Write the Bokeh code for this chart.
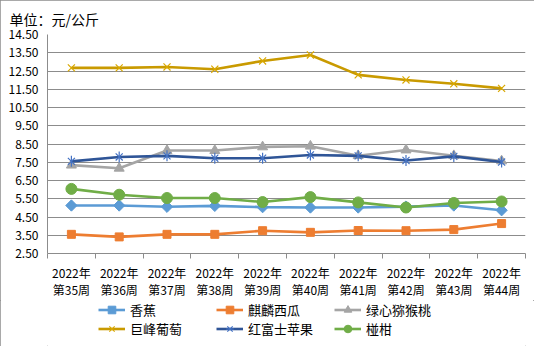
from bokeh.plotting import figure
from bokeh.layouts import column
from bokeh.models import FixedTicker, Title, Legend, LegendItem, Range1d, PrintfTickFormatter
from bokeh.embed import file_html
from bokeh.resources import INLINE

# ---- data ----
year = "2022年"
weeks = ["第35周", "第36周", "第37周", "第38周", "第39周",
         "第40周", "第41周", "第42周", "第43周", "第44周"]
banana = [5.13, 5.13, 5.06, 5.11, 5.04, 5.02, 5.02, 5.07, 5.13, 4.87]
watermelon = [3.55, 3.41, 3.55, 3.55, 3.75, 3.66, 3.76, 3.75, 3.81, 4.14]
kiwi = [7.34, 7.17, 8.14, 8.14, 8.34, 8.38, 7.86, 8.17, 7.86, 7.57]
grape = [12.67, 12.67, 12.72, 12.60, 13.05, 13.38, 12.29, 12.01, 11.80, 11.55]
apple = [7.55, 7.79, 7.85, 7.72, 7.72, 7.90, 7.85, 7.60, 7.82, 7.51]
ponkan = [6.04, 5.72, 5.54, 5.54, 5.32, 5.59, 5.30, 5.02, 5.27, 5.35]
y_ticks = [2.5, 3.5, 4.5, 5.5, 6.5, 7.5, 8.5, 9.5, 10.5, 11.5, 12.5, 13.5, 14.5]
title_text = "单位：元/公斤"
names = ["香蕉", "麒麟西瓜", "绿心猕猴桃", "巨峰葡萄", "红富士苹果", "椪柑"]
series = [banana, watermelon, kiwi, grape, apple, ponkan]

FONT = "Noto Sans CJK SC"
GRID = "#8c8c8c"
W = 534

n = len(weeks)
xs = [i + 0.5 for i in range(n)]

p = figure(width=W, height=300, output_backend="svg", toolbar_location=None,
           x_range=Range1d(0, n), y_range=Range1d(y_ticks[0], y_ticks[-1]),
           min_border_left=47, min_border_right=9, min_border_top=34, min_border_bottom=45,
           background_fill_color="white", border_fill_color="white")
p.outline_line_color = None

# title
p.add_layout(Title(text=title_text, align="left", offset=-38, standoff=11,
                   text_font=FONT, text_font_size="14px", text_font_style="normal",
                   text_color="black"), "above")

# axes
p.xaxis.ticker = FixedTicker(ticks=xs, minor_ticks=list(range(n + 1)))
p.xaxis.major_label_overrides = {x: f"{year}\n{w}" for x, w in zip(xs, weeks)}
p.xaxis.major_tick_out = 0
p.xaxis.major_tick_in = 0
p.xaxis.minor_tick_out = 5
p.xaxis.minor_tick_in = 0
p.xaxis.minor_tick_line_color = GRID
p.xaxis.axis_line_color = GRID
p.xaxis.major_label_standoff = 5
p.xaxis.major_label_text_font = FONT
p.xaxis.major_label_text_font_size = "12px"
p.xaxis.major_label_text_color = "black"
p.xaxis.major_label_text_line_height = 1.0

p.yaxis.ticker = FixedTicker(ticks=y_ticks, minor_ticks=[])
p.yaxis.formatter = PrintfTickFormatter(format="%.2f")
p.yaxis.major_tick_out = 0
p.yaxis.major_tick_in = 0
p.yaxis.minor_tick_out = 0
p.yaxis.minor_tick_in = 0
p.yaxis.axis_line_color = GRID
p.yaxis.major_label_standoff = 9
p.yaxis.major_label_text_font = FONT
p.yaxis.major_label_text_font_size = "12px"
p.yaxis.major_label_text_color = "black"

p.xgrid.grid_line_color = None
p.ygrid.ticker = FixedTicker(ticks=y_ticks)
p.ygrid.grid_line_color = GRID
p.ygrid.grid_line_width = 1

# legend figure (below the chart); its copies of the series lie outside its view
lf = figure(width=W, height=46, output_backend="svg", toolbar_location=None,
            x_range=Range1d(100, 101), y_range=Range1d(100, 101),
            x_axis_type=None, y_axis_type=None,
            min_border_left=0, min_border_right=0, min_border_top=0, min_border_bottom=0,
            background_fill_color="white", border_fill_color="white")
lf.outline_line_color = None
lf.xgrid.visible = False
lf.ygrid.visible = False

LW = 2.6
styles = [
    dict(color="#5B9BD5", marks=[dict(marker="square", angle=0.785398, size=8,
                                      fill_color="#5B9BD5", line_color="#5B9BD5")]),
    dict(color="#ED7D31", marks=[dict(marker="square", size=8,
                                      fill_color="#ED7D31", line_color="#ED7D31")]),
    dict(color="#A5A5A5", marks=[dict(marker="triangle", size=10,
                                      fill_color="#A5A5A5", line_color="#A5A5A5")]),
    dict(color="#C99A00", marks=[dict(marker="x", size=10, line_color="#D9A800", line_width=1.2)]),
    dict(color="#2F5597", marks=[dict(marker="x", size=10, line_color="#4472C4", line_width=1.2),
                                 dict(marker="dash", angle=1.570796, size=11,
                                      line_color="#4472C4", line_width=1.2)]),
    dict(color="#70AD47", marks=[dict(marker="circle", size=11,
                                      fill_color="#70AD47", line_color="#70AD47")]),
]

items = []
for name, ys, st in zip(names, series, styles):
    p.line(xs, ys, line_color=st["color"], line_width=LW)
    for mk in st["marks"]:
        p.scatter(xs, ys, **mk)
    rl = [lf.line(xs, ys, line_color=st["color"], line_width=LW)]
    for mk in st["marks"]:
        rl.append(lf.scatter(xs, ys, **mk))
    items.append(LegendItem(label=name, renderers=rl))

legend = Legend(items=items, location=(51, 8), orientation="horizontal", ncols=3,
                glyph_width=27, glyph_height=19, label_height=19, label_width=86,
                label_standoff=5, spacing=0, padding=0, margin=0,
                border_line_color=None, background_fill_alpha=0,
                label_text_font=FONT, label_text_font_size="13px",
                label_text_color="black")
lf.add_layout(legend, "center")

layout = column(p, lf, spacing=0,
                styles={"outline": "1px solid #8c8c8c", "outline-offset": "-1px"})

open("out.html", "w").write(file_html(layout, INLINE))
